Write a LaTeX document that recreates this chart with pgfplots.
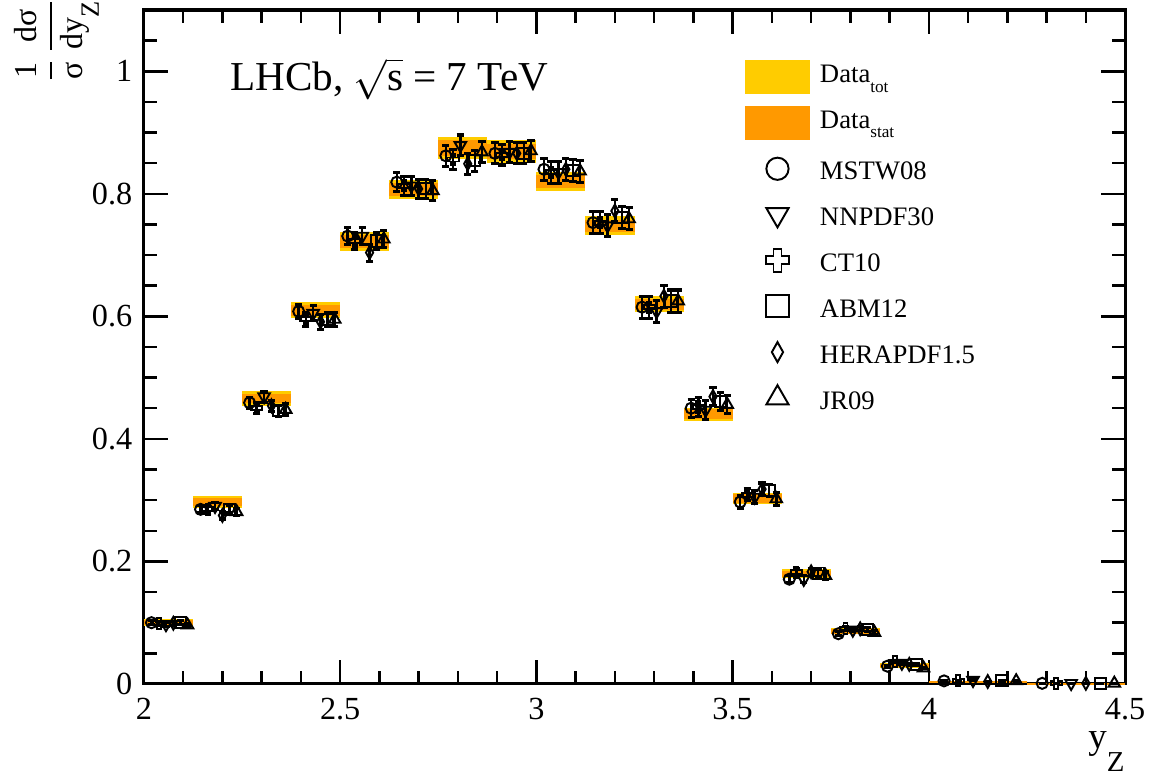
\documentclass[border=0pt]{standalone}
\usepackage{amsmath}
\usepackage{fontspec}
\setmainfont{Liberation Serif}
\usepackage{pgfplots}
\pgfplotsset{compat=1.18}
\usepackage{pgfplotstable}

\definecolor{cyel}{RGB}{255,204,0}
\definecolor{corg}{RGB}{255,153,0}

\pgfdeclareplotmark{ocross}{%
  \pgfmathsetlengthmacro\ocA{\pgfplotmarksize}%
  \pgfmathsetlengthmacro\ocB{0.36*\pgfplotmarksize}%
  \pgfpathmoveto{\pgfqpoint{-\ocB}{\ocA}}%
  \pgfpathlineto{\pgfqpoint{\ocB}{\ocA}}%
  \pgfpathlineto{\pgfqpoint{\ocB}{\ocB}}%
  \pgfpathlineto{\pgfqpoint{\ocA}{\ocB}}%
  \pgfpathlineto{\pgfqpoint{\ocA}{-\ocB}}%
  \pgfpathlineto{\pgfqpoint{\ocB}{-\ocB}}%
  \pgfpathlineto{\pgfqpoint{\ocB}{-\ocA}}%
  \pgfpathlineto{\pgfqpoint{-\ocB}{-\ocA}}%
  \pgfpathlineto{\pgfqpoint{-\ocB}{-\ocB}}%
  \pgfpathlineto{\pgfqpoint{-\ocA}{-\ocB}}%
  \pgfpathlineto{\pgfqpoint{-\ocA}{\ocB}}%
  \pgfpathlineto{\pgfqpoint{-\ocB}{\ocB}}%
  \pgfpathclose
  \pgfusepathqstroke
}

% data, bins of width 0.125: bin centre, value, stat. unc., total unc.
\pgfplotstableread{
x v stat tot
2.0625 0.100 0.004 0.006
2.1875 0.297 0.007 0.010
2.3125 0.466 0.008 0.012
2.4375 0.610 0.009 0.013
2.5625 0.722 0.010 0.015
2.6875 0.807 0.011 0.016
2.8125 0.874 0.013 0.018
2.9375 0.869 0.013 0.018
3.0625 0.820 0.011 0.016
3.1875 0.748 0.010 0.015
3.3125 0.620 0.009 0.013
3.4375 0.440 0.008 0.011
3.5625 0.303 0.007 0.009
3.6875 0.180 0.005 0.007
3.8125 0.086 0.004 0.005
3.9375 0.030 0.003 0.004
}\datanarrow
% data, bins of width 0.25
\pgfplotstableread{
x v stat tot
4.125 0.004 0.001 0.0015
4.375 0.0005 0.0003 0.0004
}\datawide

% predictions: bin low edge, bin width, MSTW08, CT10, NNPDF30, HERAPDF1.5, ABM12, JR09, unc.
\pgfplotstableread{
xlo w m c n h a j e
2.000 0.125 0.100 0.099 0.097 0.099 0.100 0.096 0.003
2.125 0.125 0.285 0.285 0.290 0.275 0.285 0.281 0.006
2.250 0.125 0.459 0.451 0.469 0.454 0.446 0.448 0.009
2.375 0.125 0.608 0.595 0.605 0.591 0.595 0.595 0.012
2.500 0.125 0.731 0.723 0.731 0.704 0.723 0.726 0.014
2.625 0.125 0.819 0.813 0.813 0.808 0.808 0.805 0.016
2.750 0.125 0.862 0.856 0.879 0.849 0.854 0.868 0.017
2.875 0.125 0.866 0.864 0.868 0.866 0.866 0.870 0.017
3.000 0.125 0.840 0.835 0.835 0.840 0.838 0.837 0.018
3.125 0.125 0.753 0.753 0.748 0.772 0.761 0.759 0.018
3.250 0.125 0.615 0.615 0.608 0.633 0.625 0.625 0.018
3.375 0.125 0.450 0.452 0.447 0.469 0.461 0.456 0.015
3.500 0.125 0.297 0.309 0.305 0.318 0.316 0.302 0.010
3.625 0.125 0.171 0.182 0.171 0.183 0.181 0.177 0.006
3.750 0.125 0.082 0.090 0.088 0.090 0.089 0.084 0.003
3.875 0.125 0.029 0.036 0.034 0.032 0.032 0.026 0.0015
4.000 0.250 0.005 0.005 0.006 0.004 0.005 0.005 0.0005
4.250 0.250 0.001 0.001 0.001 0.001 0.001 0.001 0.0002
}\thytab

\pgfplotsset{
  band/.style 2 args={draw=none, mark=none,
    error bars/y dir=both, error bars/y explicit, error bars/error mark=none,
    error bars/error bar style={draw=#1, line width=#2, line cap=butt},
    legend image code/.code={\fill[#1] (0pt,-6.2pt) rectangle (23.4pt,6.2pt); \path[draw=none,fill=none] (0pt,-6.2pt) rectangle (27pt,6.2pt);}},
  thy/.style={only marks, black,
    error bars/y dir=both, error bars/y explicit,
    error bars/error bar style={line width=0.9pt, black},
    error bars/error mark options={rotate=90, line width=1.1pt, mark size=1.3pt, black},
    legend image code/.code={\draw[mark repeat=2,mark phase=2,##1] plot coordinates {(0pt,0pt)(11.7pt,0pt)(23.4pt,0pt)}; \path[draw=none,fill=none] (0pt,-6.2pt) rectangle (27pt,6.2pt);}},
  mo/.style={mark options={black, fill=none, line width=0.7pt, solid, #1}},
}

\begin{document}
\begin{tikzpicture}
\begin{axis}[
  scale only axis, width=353.2pt, height=242.6pt,
  xmin=2, xmax=4.5, ymin=0, ymax=1.1,
  xtick={2,2.5,...,4.5}, ytick={0,0.2,...,1},
  minor xtick={2.1,2.2,...,4.4}, minor ytick={0.05,0.1,...,1.05},
  major tick length=8.8pt, minor tick length=4.6pt,
  tick style={black, line width=0.9pt},
  axis line style={line width=1.1pt},
  tick label style={font=\fontsize{11.6}{13}\selectfont},
  /pgf/number format/assume math mode=true,
  xticklabel style={inner sep=0pt, yshift=-5pt},
  yticklabel style={inner sep=0pt, xshift=-4pt},
  clip=false,
  legend cell align=left,
  legend style={at={(0.6126,0.926)}, anchor=north west, draw=none, fill=none,
    inner sep=0pt, outer sep=0pt, row sep=4.1pt,
    font=\fontsize{9.6}{11}\selectfont,
    nodes={inner sep=0pt, text height=8pt, text depth=0pt}},
]
\addplot[band={cyel}{17.66pt}] table[x=x, y=v, y error=tot] {\datanarrow};
\addlegendentry{\raisebox{2.1pt}{Data\raisebox{-3.5pt}{\fontsize{6.2}{7}\selectfont tot}}}
\addplot[band={cyel}{35.32pt}, forget plot] table[x=x, y=v, y error=tot] {\datawide};
\addplot[band={corg}{17.66pt}] table[x=x, y=v, y error=stat] {\datanarrow};
\addlegendentry{\raisebox{2.1pt}{Data\raisebox{-3.5pt}{\fontsize{6.2}{7}\selectfont stat}}}
\addplot[band={corg}{35.32pt}, forget plot] table[x=x, y=v, y error=stat] {\datawide};

\addplot[thy, mark=o, mark size=2pt, mo={}, legend image post style={mark size=4pt}]
  table[x expr=\thisrow{xlo}+0.155*\thisrow{w}, y=m, y error=e] {\thytab};
\addlegendentry{MSTW08}
\addplot[thy, mark=triangle, mark size=2.4pt, mo={rotate=180}, legend image post style={mark size=4.6pt}]
  table[x expr=\thisrow{xlo}+0.45*\thisrow{w}, y=n, y error=e] {\thytab};
\addlegendentry{NNPDF30}
\addplot[thy, mark=ocross, mark size=2pt, mo={}, legend image post style={mark size=4pt}]
  table[x expr=\thisrow{xlo}+0.30*\thisrow{w}, y=c, y error=e] {\thytab};
\addlegendentry{CT10}
\addplot[thy, mark=square, mark size=2pt, mo={}, legend image post style={mark size=4pt}]
  table[x expr=\thisrow{xlo}+0.745*\thisrow{w}, y=a, y error=e] {\thytab};
\addlegendentry{ABM12}
\addplot[thy, mark=diamond, mark size=2.3pt, mo={xscale=0.75}, legend image post style={mark size=3.6pt}]
  table[x expr=\thisrow{xlo}+0.60*\thisrow{w}, y=h, y error=e] {\thytab};
\addlegendentry{HERAPDF1.5}
\addplot[thy, mark=triangle, mark size=2.4pt, mo={}, legend image post style={mark size=4.6pt}]
  table[x expr=\thisrow{xlo}+0.89*\thisrow{w}, y=j, y error=e] {\thytab};
\addlegendentry{JR09}

\node[anchor=base west, inner sep=0pt, font=\fontsize{14.8}{17}\selectfont] at (rel axis cs:0.0877,0.880) {LHCb, $\sqrt{\mbox{s}}$ = 7 TeV};
\node[anchor=base east, inner sep=0pt] at (rel axis cs:1,-0.0964) {\fontsize{13.3}{15}\selectfont y\raisebox{-8.3pt}{\fontsize{10.4}{12}\selectfont Z}};
\node[rotate=90, anchor=center, inner sep=0pt] at (rel axis cs:-0.0887,0.955) {\fontsize{11.5}{14}\selectfont $\displaystyle\genfrac{}{}{0.7pt}{0}{\mbox{1}}{\mbox{σ}}\,\genfrac{}{}{0.7pt}{0}{\mbox{dσ}}{\mbox{dy}\raisebox{-6pt}{\mbox{\fontsize{9.5}{11}\selectfont Z}}}$};
\coordinate (sw) at (rel axis cs:0,0);
\end{axis}
\pgfresetboundingbox
\path[use as bounding box] (sw) ++(-51.8pt,-34.2pt) rectangle ++(417.2pt,280.4pt);
\end{tikzpicture}
\end{document}
